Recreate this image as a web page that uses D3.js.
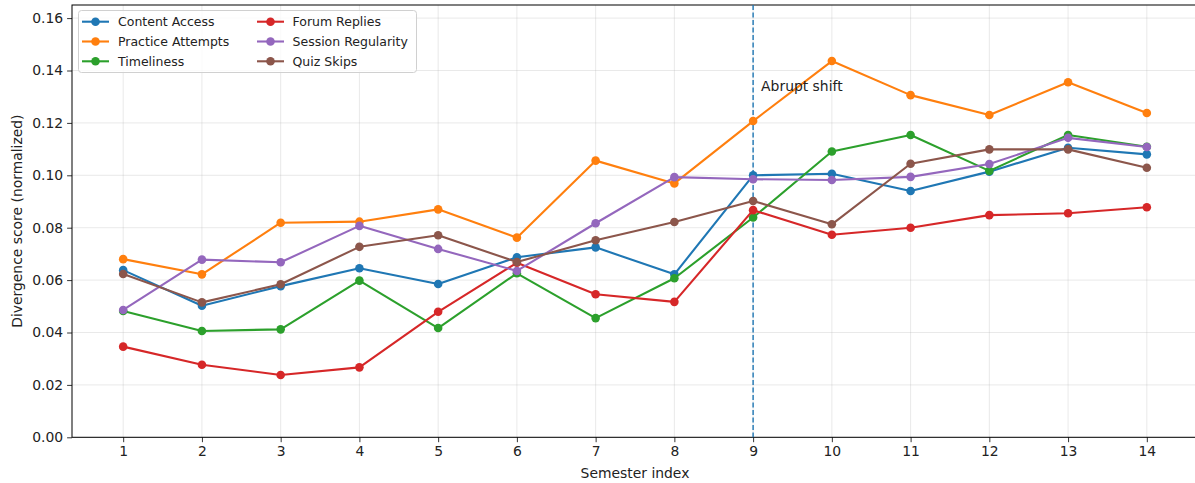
<!DOCTYPE html>
<html><head><meta charset="utf-8">
<script src="https://cdn.jsdelivr.net/npm/d3@7"></script>
<style>body{margin:0;background:#fff}svg{display:block;font-family:"DejaVu Sans",sans-serif}</style>
</head><body>
<svg id="c" width="1195" height="483"></svg>
<script>
const semesters = [1,2,3,4,5,6,7,8,9,10,11,12,13,14];
const contentAccess = [0.0638,0.0502,0.0577,0.0645,0.0585,0.0687,0.0725,0.0622,0.1000,0.1006,0.0940,0.1014,0.1105,0.1080];
const practiceAttempts = [0.0680,0.0622,0.0819,0.0823,0.0870,0.0762,0.1056,0.0969,0.1207,0.1436,0.1306,0.1230,0.1355,0.1238];
const timeliness = [0.0482,0.0406,0.0412,0.0598,0.0417,0.0626,0.0455,0.0607,0.0839,0.1091,0.1154,0.1017,0.1154,0.1109];
const forumReplies = [0.0346,0.0277,0.0238,0.0267,0.0479,0.0666,0.0546,0.0517,0.0867,0.0773,0.0800,0.0848,0.0855,0.0878];
const sessionRegularity = [0.0486,0.0678,0.0668,0.0807,0.0719,0.0635,0.0817,0.0993,0.0985,0.0982,0.0994,0.1043,0.1143,0.1108];
const quizSkips = [0.0623,0.0515,0.0584,0.0727,0.0771,0.0669,0.0752,0.0822,0.0902,0.0813,0.1044,0.1099,0.1099,0.1029];
const seriesNames = ["Content Access","Practice Attempts","Timeliness","Forum Replies","Session Regularity","Quiz Skips"];
const seriesColors = ["#1f77b4","#ff7f0e","#2ca02c","#d62728","#9467bd","#8c564b"];
const yTicks = [0,0.02,0.04,0.06,0.08,0.10,0.12,0.14,0.16];
const shiftAt = 9;
const shiftLabel = "Abrupt shift";
const shiftLabelY = 0.132;

const series = [contentAccess,practiceAttempts,timeliness,forumReplies,sessionRegularity,quizSkips]
  .map((v,i)=>({name:seriesNames[i],color:seriesColors[i],values:v}));

const L=72, R=1198, T=5, B=437.3;
const svg = d3.select("#c");
const x = d3.scaleLinear().domain([0.35,14.65]).range([L,R]);
const y = d3.scaleLinear().domain([0,0.165]).range([B,T]);

// grid
const g = svg.append("g");
g.selectAll(".vg").data(semesters).enter().append("line")
  .attr("x1",d=>x(d)).attr("x2",d=>x(d)).attr("y1",T).attr("y2",B)
  .attr("stroke","#b0b0b0").attr("stroke-opacity",0.35).attr("stroke-width",0.8);
g.selectAll(".hg").data(yTicks).enter().append("line")
  .attr("x1",L).attr("x2",R).attr("y1",d=>y(d)).attr("y2",d=>y(d))
  .attr("stroke","#b0b0b0").attr("stroke-opacity",0.35).attr("stroke-width",0.8);

// axes
const xAxis = d3.axisBottom(x).tickValues(semesters).tickFormat(d3.format("d")).tickSizeOuter(0).tickSize(4.9).tickPadding(4);
const yAxis = d3.axisLeft(y).tickValues(yTicks).tickFormat(d3.format(".2f")).tickSizeOuter(0).tickSize(4.9).tickPadding(4);
const xa = svg.append("g").attr("transform",`translate(0,${B})`).call(xAxis);
const ya = svg.append("g").attr("transform",`translate(${L},0)`).call(yAxis);
[xa,ya].forEach(a=>{
  a.select(".domain").remove();
  a.selectAll(".tick line").attr("stroke","#000").attr("stroke-width",0.8);
  a.selectAll(".tick text").attr("fill","#222").style("font-size","13.9px").style("font-family","DejaVu Sans");
});
// spines
svg.append("rect").attr("x",L).attr("y",T).attr("width",R-L).attr("height",B-T)
  .attr("fill","none").attr("stroke","#000").attr("stroke-width",1);

// shift line
svg.append("line").attr("x1",x(shiftAt)).attr("x2",x(shiftAt)).attr("y1",T).attr("y2",B)
  .attr("stroke","#1f77b4").attr("stroke-width",1.4).attr("stroke-dasharray","5,2.5");

// series
const line = d3.line().x((d,i)=>x(semesters[i])).y(d=>y(d));
series.forEach(s=>{
  const sg = svg.append("g");
  sg.append("path").attr("d",line(s.values)).attr("fill","none").attr("stroke",s.color).attr("stroke-width",2.1).attr("stroke-linejoin","round");
  sg.selectAll("circle").data(s.values).enter().append("circle")
    .attr("cx",(d,i)=>x(semesters[i])).attr("cy",d=>y(d)).attr("r",4.3).attr("fill",s.color);
});

// annotation
svg.append("text").attr("x",x(shiftAt)+8).attr("y",y(shiftLabelY)).text(shiftLabel)
  .style("font-size","13.9px").attr("fill","#222");

// axis labels
svg.append("text").attr("x",(72+1198)/2).attr("y",478).attr("text-anchor","middle").text("Semester index")
  .style("font-size","13.9px").attr("fill","#222");
svg.append("text").attr("transform",`translate(22,${(T+B)/2}) rotate(-90)`).attr("text-anchor","middle")
  .text("Divergence score (normalized)").style("font-size","13.9px").attr("fill","#222");

// legend
const lg = svg.append("g");
lg.append("rect").attr("x",78.5).attr("y",10.5).attr("width",338).attr("height",62).attr("rx",3)
  .attr("fill","#fff").attr("fill-opacity",0.8).attr("stroke","#d0d0d0").attr("stroke-width",1);
series.forEach((s,i)=>{
  const col = Math.floor(i/3), row = i%3;
  const hx = col===0 ? 82 : 257, tx = col===0 ? 118 : 292.5;
  const cy = 21.7 + row*19.8;
  lg.append("line").attr("x1",hx).attr("x2",hx+27).attr("y1",cy).attr("y2",cy).attr("stroke",s.color).attr("stroke-width",2.1);
  lg.append("circle").attr("cx",hx+13.5).attr("cy",cy).attr("r",4.3).attr("fill",s.color);
  lg.append("text").attr("x",tx).attr("y",cy+4.5).text(s.name).style("font-size","12.5px").attr("fill","#222");
});
</script>
</body></html>
